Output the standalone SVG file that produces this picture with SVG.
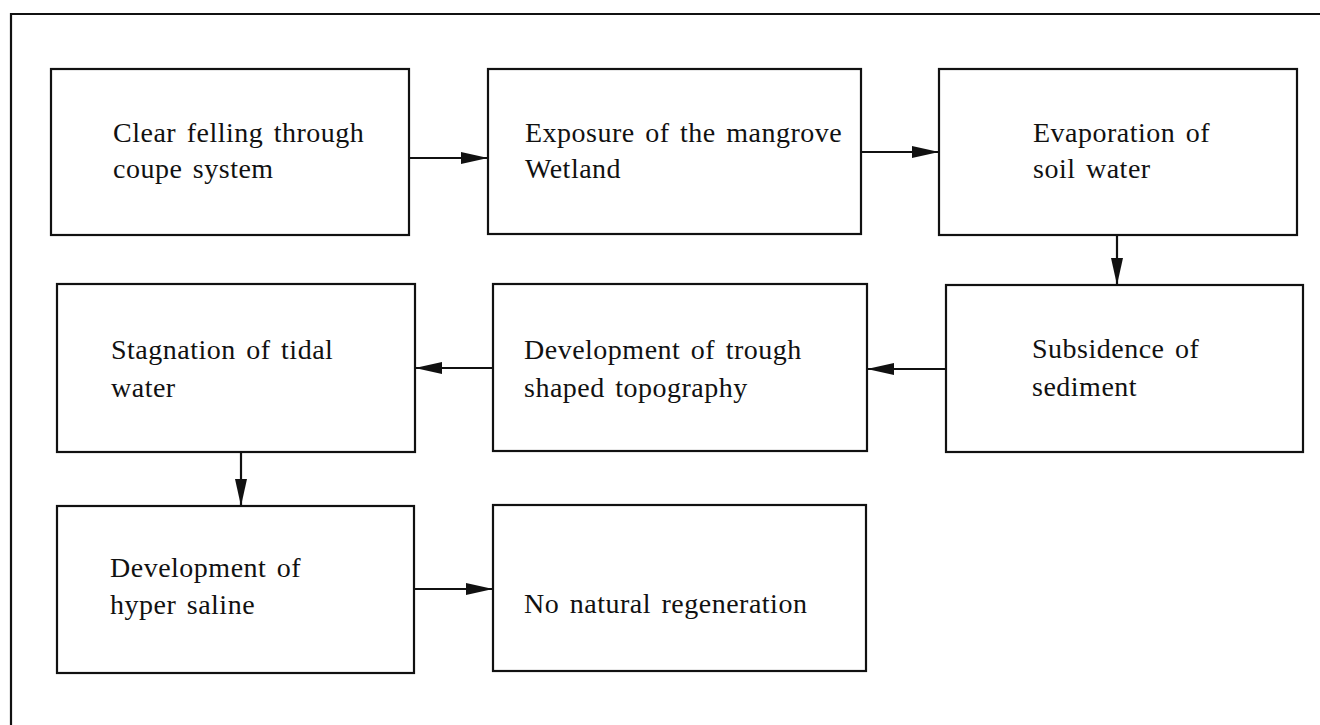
<svg xmlns="http://www.w3.org/2000/svg" width="1320" height="725" viewBox="0 0 1320 725">
<style>
.box{fill:#fff;stroke:#111;stroke-width:2.2}
.lbl{font-family:"Liberation Serif","Times New Roman",serif;font-size:28px;fill:#111;letter-spacing:0.5px;word-spacing:3px}
.con{stroke:#111;stroke-width:2.2;fill:none;marker-end:url(#ah)}
.frame{stroke:#111;stroke-width:2.2;fill:none}
</style>
<defs>
<marker id="ah" markerUnits="userSpaceOnUse" markerWidth="28" markerHeight="12" refX="27" refY="6" orient="auto">
<path d="M0,0 L27,6 L0,12 z" fill="#111"/>
</marker>
</defs>
<rect width="1320" height="725" fill="#fff"/>
<path class="frame" d="M1320,14 H11 V725"/>
<g id="n1"><rect class="box" x="51" y="69" width="358" height="166"/><text class="lbl" x="113" y="142">Clear felling through</text><text class="lbl" x="113" y="178">coupe system</text></g>
<g id="n2"><rect class="box" x="488" y="69" width="373" height="165"/><text class="lbl" x="525" y="142">Exposure of the mangrove</text><text class="lbl" x="525" y="178">Wetland</text></g>
<g id="n3"><rect class="box" x="939" y="69" width="358" height="166"/><text class="lbl" x="1033" y="142">Evaporation of</text><text class="lbl" x="1033" y="178">soil water</text></g>
<g id="n4"><rect class="box" x="946" y="285" width="357" height="167"/><text class="lbl" x="1032" y="358">Subsidence of</text><text class="lbl" x="1032" y="396">sediment</text></g>
<g id="n5"><rect class="box" x="493" y="284" width="374" height="167"/><text class="lbl" x="524" y="359">Development of trough</text><text class="lbl" x="524" y="397">shaped topography</text></g>
<g id="n6"><rect class="box" x="57" y="284" width="358" height="168"/><text class="lbl" x="111" y="359">Stagnation of tidal</text><text class="lbl" x="111" y="397">water</text></g>
<g id="n7"><rect class="box" x="57" y="506" width="357" height="167"/><text class="lbl" x="110" y="577">Development of</text><text class="lbl" x="110" y="614">hyper saline</text></g>
<g id="n8"><rect class="box" x="493" y="505" width="373" height="166"/><text class="lbl" x="524" y="613">No natural regeneration</text></g>
<g id="connectors">
<line class="con" x1="409" y1="158" x2="488" y2="158"/>
<line class="con" x1="861" y1="152" x2="939" y2="152"/>
<line class="con" x1="1117" y1="235" x2="1117" y2="285"/>
<line class="con" x1="946" y1="369" x2="867" y2="369"/>
<line class="con" x1="493" y1="368" x2="415" y2="368"/>
<line class="con" x1="241" y1="452" x2="241" y2="506"/>
<line class="con" x1="414" y1="589" x2="493" y2="589"/>
</g>
</svg>
